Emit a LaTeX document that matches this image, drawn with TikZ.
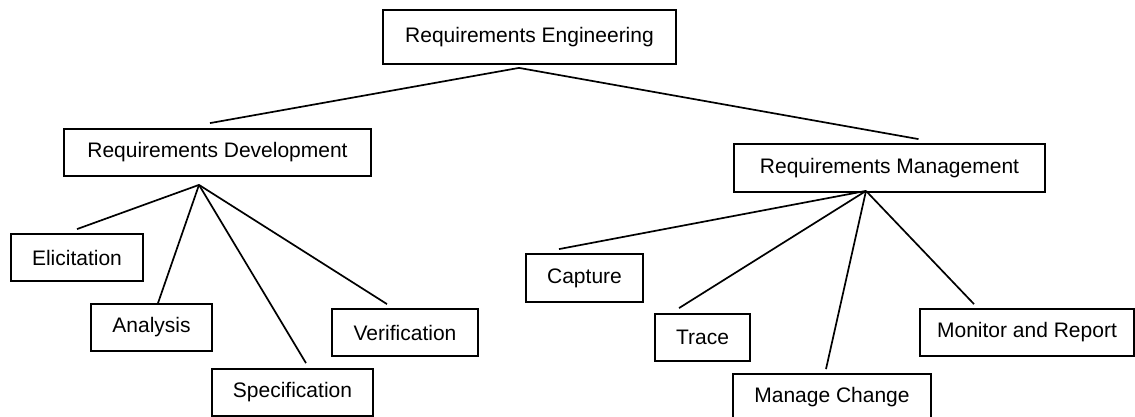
\documentclass[tikz,border=0pt]{standalone}
\usepackage{fontspec}
\setmainfont{Liberation Sans}
\usetikzlibrary{calc}
\tikzset{
  box/.style={draw, line width=1.8pt, rectangle, inner sep=0pt, fill=white,
    font=\fontsize{21}{25}\selectfont},
  link/.style={line width=1.7pt, line cap=butt}
}
\begin{document}
\begin{tikzpicture}[x=1pt, y=-1pt]
  % page frame
  \fill[white] (0,0) rectangle (1135,417);
  \useasboundingbox (0,0) rectangle (1135,417);

  % root
  \node[box, minimum width=293pt, minimum height=54pt] (re) at (529.5,37) {Requirements Engineering};

  % second level
  \node[box, minimum width=307pt, minimum height=47pt] (rd) at (217.5,152.5) {Requirements Development};
  \node[box, minimum width=311pt, minimum height=48pt] (rm) at (889.5,168) {Requirements Management};

  % development activities
  \node[box, minimum width=132pt, minimum height=47pt] (eli) at (77,257.5) {Elicitation};
  \node[box, minimum width=121pt, minimum height=47pt] (ana) at (151.5,327.5) {Analysis};
  \node[box, minimum width=161pt, minimum height=47pt] (spe) at (292.5,392.5) {Specification};
  \node[box, minimum width=146pt, minimum height=47pt] (ver) at (405,332.5) {Verification};

  % management activities
  \node[box, minimum width=117pt, minimum height=48pt] (cap) at (584.5,278) {Capture};
  \node[box, minimum width=95pt, minimum height=47pt] (tra) at (702.5,337.5) {Trace};
  \node[box, minimum width=198pt, minimum height=47pt] (man) at (832,397.5) {Manage Change};
  \node[box, minimum width=214pt, minimum height=47pt] (mon) at (1027,332.5) {Monitor and Report};

  % branching points
  \coordinate (reFork) at ($(re.south)+(-10.5,3)$);
  \coordinate (rdFork) at ($(rd.south)+(-18.5,8)$);
  \coordinate (rmFork) at ($(rm.south)+(-23.5,-2)$);

  % ends of the branches, just above each box
  \coordinate (rdEnd)  at ($(rd.north)+(-7.5,-5)$);
  \coordinate (rmEnd)  at ($(rm.north)+(29,-4)$);
  \coordinate (eliEnd) at ($(eli.north)+(0,-4)$);
  \coordinate (anaEnd) at ($(ana.north)+(6.5,0)$);
  \coordinate (speEnd) at ($(spe.north)+(13.5,-5)$);
  \coordinate (verEnd) at ($(ver.north)+(-18,-4)$);
  \coordinate (capEnd) at ($(cap.north)+(-25.5,-4)$);
  \coordinate (traEnd) at ($(tra.north)+(-23.5,-5)$);
  \coordinate (manEnd) at ($(man.north)+(-6,-4)$);
  \coordinate (monEnd) at ($(mon.north)+(-53,-4)$);

  \draw[link] (rdEnd) -- (reFork) -- (rmEnd);
  \draw[link] (rdFork) -- (eliEnd);
  \draw[link] (rdFork) -- (anaEnd);
  \draw[link] (rdFork) -- (speEnd);
  \draw[link] (rdFork) -- (verEnd);
  \draw[link] (rmFork) -- (capEnd);
  \draw[link] (rmFork) -- (traEnd);
  \draw[link] (rmFork) -- (manEnd);
  \draw[link] (rmFork) -- (monEnd);
\end{tikzpicture}
\end{document}
